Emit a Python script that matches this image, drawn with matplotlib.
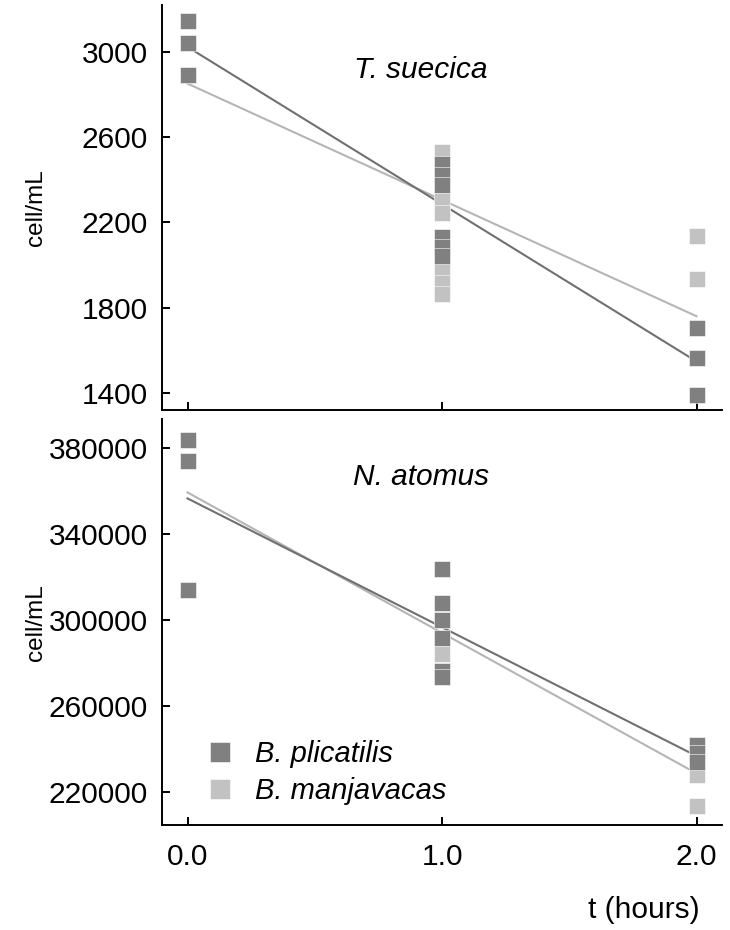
import numpy as np
import matplotlib.pyplot as plt

plt.rcParams['font.family'] = ['Liberation Sans', 'DejaVu Sans']

# T. suecica (cell/mL)
ts_plic_t = [0, 0, 0, 1, 1, 1, 1, 1, 1, 2, 2, 2]
ts_plic_y = [3145, 3038, 2892, 2472, 2420, 2374, 2130, 2085, 2040, 1707, 1562, 1392]
ts_manj_t = [1, 1, 1, 1, 1, 1, 2, 2]
ts_manj_y = [2528, 2300, 2242, 1981, 1918, 1862, 2137, 1934]

# N. atomus (cell/mL)
na_plic_t = [0, 0, 0, 1, 1, 1, 1, 1, 1, 2, 2, 2]
na_plic_y = [383800, 374300, 314200, 323700, 308000, 300000, 291800, 276500, 273700,
             241900, 238000, 234000]
na_manj_t = [1, 2, 2]
na_manj_y = [284400, 227700, 213600]

# regression lines (value at t=0, value at t=2)
fit_t = [0, 2]
ts_plic_fit = [3022, 1548]
ts_manj_fit = [2850, 1760]
na_plic_fit = [356700, 236700]
na_manj_fit = [359500, 228600]

dark = '#808080'
light = '#c2c2c2'
dark_line = '#707070'
light_line = '#b5b5b5'

fig = plt.figure(figsize=(7.3, 9.3), dpi=100)
ax1 = fig.add_axes([0.222, 0.559, 0.767, 0.436])
ax2 = fig.add_axes([0.222, 0.113, 0.767, 0.436])

panels = [
    (ax1, ts_plic_t, ts_plic_y, ts_manj_t, ts_manj_y, ts_plic_fit, ts_manj_fit,
     'T. suecica', (1320, 3220), [1400, 1800, 2200, 2600, 3000], 0.838),
    (ax2, na_plic_t, na_plic_y, na_manj_t, na_manj_y, na_plic_fit, na_manj_fit,
     'N. atomus', (204600, 393500), [220000, 260000, 300000, 340000, 380000], 0.857),
]

for ax, pt, py, mt, my, pfit, mfit, title, ylim, yticks, ty in panels:
    ax.plot(fit_t, mfit, color=light_line, lw=1.5, zorder=1)
    ax.plot(fit_t, pfit, color=dark_line, lw=1.5, zorder=1)
    ax.plot(mt, my, 's', color=light, ms=12.2, mec='white', mew=0.4,
            label='B. manjavacas', zorder=2)
    ax.plot(pt, py, 's', color=dark, ms=12.2, mec='white', mew=0.4,
            label='B. plicatilis', zorder=3)
    ax.set_xlim(-0.1, 2.1)
    ax.set_ylim(*ylim)
    ax.set_yticks(yticks)
    ax.set_xticks([0, 1, 2])
    ax.set_xticklabels(['0.0', '1.0', '2.0'])
    ax.spines['top'].set_visible(False)
    ax.spines['right'].set_visible(False)
    for s in ['left', 'bottom']:
        ax.spines[s].set_linewidth(1.4)
    ax.tick_params(direction='in', length=6, width=1.4, labelsize=21.5, pad=10)
    ax.tick_params(axis='x', pad=13)
    ax.set_ylabel('cell/mL', fontsize=17.5)
    ax.yaxis.set_label_coords(-0.205, 0.5)
    ax.text(0.4625, ty, title, transform=ax.transAxes, fontsize=21.5,
            style='italic', ha='center', va='center')

ax1.tick_params(axis='x', labelbottom=False)
ax2.set_xlabel('t (hours)', fontsize=21.5, ha='right', va='center')
ax2.xaxis.set_label_coords(0.96, -0.21)

h, l = ax2.get_legend_handles_labels()
leg = ax2.legend(h[::-1], l[::-1], loc='lower left', bbox_to_anchor=(0.035, -0.015),
                 frameon=False, fontsize=21, handlelength=0.8, handletextpad=0.8,
                 labelspacing=0.3, markerscale=1.15)
for t in leg.get_texts():
    t.set_style('italic')

fig.savefig('out.png', dpi=100)
